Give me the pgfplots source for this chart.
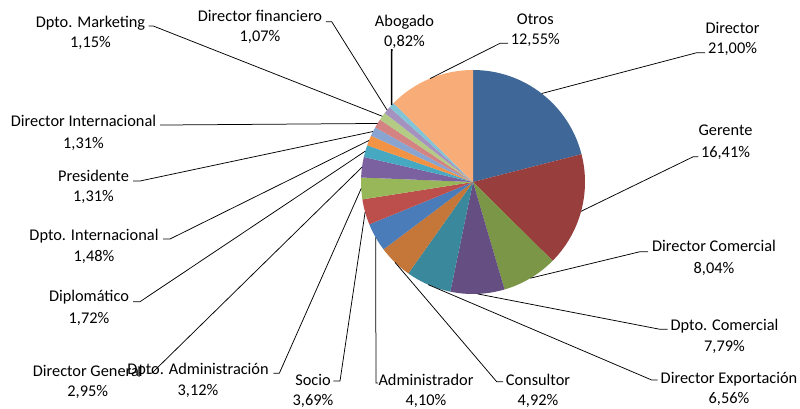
\documentclass[border=0pt]{standalone}
\usepackage{fontspec}
\setmainfont{Carlito}
\usepackage{pgfplots}
\usepackage{pgfplotstable}
\pgfplotsset{compat=1.18}
\definecolor{c1}{HTML}{3F6797}
\definecolor{c2}{HTML}{983E3C}
\definecolor{c3}{HTML}{7B9646}
\definecolor{c4}{HTML}{654F82}
\definecolor{c5}{HTML}{3A889C}
\definecolor{c6}{HTML}{C47738}
\definecolor{c7}{HTML}{4A7CBA}
\definecolor{c8}{HTML}{BC4E4B}
\definecolor{c9}{HTML}{97B758}
\definecolor{c10}{HTML}{7C61A0}
\definecolor{c11}{HTML}{47A8C2}
\definecolor{c12}{HTML}{F29244}
\definecolor{c13}{HTML}{88A5D2}
\definecolor{c14}{HTML}{D38482}
\definecolor{c15}{HTML}{B3CB85}
\definecolor{c16}{HTML}{A692BE}
\definecolor{c17}{HTML}{81C5D7}
\definecolor{c18}{HTML}{F8AC77}
\newcommand\lbl{\fontsize{16.4}{20}\selectfont}
\pgfplotstableread[col sep=comma]{
name,val,col,lx,la,lb,ex,ey,hx,lw
Director,21.00,c1,732.5,28.3,48.3,696.7,52.7,705,0.75
Gerente,16.41,c2,725.5,130.7,152.3,693.3,156.7,698.3,0.75
Director Comercial,8.04,c3,714,246.7,268,640,251.7,648,0.75
Dpto. Comercial,7.79,c4,724.5,325,346.7,660,329.3,667.7,0.75
Director Exportación,6.56,c5,729,378.5,398.5,651.7,380,657.5,0.75
Consultor,4.92,c6,538,380,400,496.7,381.7,503,0.75
Administrador,4.10,c7,426,380,400,376,383,378,0.75
Socio,3.69,c8,313,380,400,340,381,333.3,0.75
Dpto. Administración,3.12,c9,198,369.3,390,279.3,373.3,273.3,0.75
Director General,2.95,c10,87.7,371.7,391.7,151.7,373.3,146.7,0.75
Diplomático,1.72,c11,89,296.7,318,140,301.7,133,0.75
Dpto. Internacional,1.48,c12,94,235,256,170,239,163,0.75
Presidente,1.31,c13,93.5,176,196.7,140,181,133,0.75
Director Internacional,1.31,c14,83.5,121.7,143,165,125,160,0.75
Dpto. Marketing,1.15,c15,90.5,22.7,42.7,153.3,26,148.7,0.75
Director financiero,1.07,c16,260,16.7,36.7,331.7,21.7,326,0.75
Abogado,0.82,c17,404.5,21.7,41.7,391.7,49,391.7,1.6
Otros,12.55,c18,535.3,19,39,500,43.3,508,0.75
}\pietable
\begin{document}
\begin{tikzpicture}
\begin{axis}[hide axis, x=1bp, y=1bp, y dir=reverse,
  xmin=0, xmax=800, ymin=0, ymax=408, clip=false]
\coordinate (ll) at (axis cs:0,408);
\coordinate (ur) at (axis cs:800,0);
\pgfplotsextra{%
  \pgfplotstablegetrowsof{\pietable}%
  \pgfmathtruncatemacro\N{\pgfplotsretval-1}%
  \gdef\pietot{0}%
  \foreach \i in {0,...,\N}{%
    \pgfplotstablegetelem{\i}{val}\of\pietable
    \pgfmathsetmacro\tmpsum{\pietot+\pgfplotsretval}\xdef\pietot{\tmpsum}}%
  \gdef\piecum{0}%
  \foreach \i in {0,...,\N}{%
    \pgfplotstablegetelem{\i}{val}\of\pietable\edef\sval{\pgfplotsretval}%
    \pgfplotstablegetelem{\i}{col}\of\pietable\edef\scol{\pgfplotsretval}%
    \pgfmathsetmacro\aa{90-\piecum/\pietot*360}%
    \pgfmathsetmacro\bb{90-(\piecum+\sval)/\pietot*360}%
    \pgfmathsetmacro\sx{473+112*cos(\aa)}%
    \pgfmathsetmacro\sy{182-112*sin(\aa)}%
    \fill[fill=\scol] (axis cs:473,182) -- (axis cs:\sx,\sy) arc[start angle=\aa, end angle=\bb, radius=112bp] -- cycle;
    \pgfmathsetmacro\tmpsum{\piecum+\sval}\xdef\piecum{\tmpsum}%
  }%
  \gdef\piecum{0}%
  \foreach \i in {0,...,\N}{%
    \pgfplotstablegetelem{\i}{val}\of\pietable\edef\sval{\pgfplotsretval}%
    \pgfplotstablegetelem{\i}{name}\of\pietable\edef\snm{\pgfplotsretval}%
    \pgfplotstablegetelem{\i}{lx}\of\pietable\edef\slx{\pgfplotsretval}%
    \pgfplotstablegetelem{\i}{la}\of\pietable\edef\sla{\pgfplotsretval}%
    \pgfplotstablegetelem{\i}{lb}\of\pietable\edef\slb{\pgfplotsretval}%
    \pgfplotstablegetelem{\i}{ex}\of\pietable\edef\sex{\pgfplotsretval}%
    \pgfplotstablegetelem{\i}{ey}\of\pietable\edef\sey{\pgfplotsretval}%
    \pgfplotstablegetelem{\i}{hx}\of\pietable\edef\shx{\pgfplotsretval}%
    \pgfplotstablegetelem{\i}{lw}\of\pietable\edef\slw{\pgfplotsretval}%
    \pgfmathsetmacro\mm{90-(\piecum+\sval/2)/\pietot*360}%
    \pgfmathsetmacro\mx{473+112*cos(\mm)}%
    \pgfmathsetmacro\my{182-112*sin(\mm)}%
    \draw[black, line width=\slw bp] (axis cs:\mx,\my) -- (axis cs:\sex,\sey) -- (axis cs:\shx,\sey);
    \node[font=\lbl, text height=10.5bp, text depth=0bp, inner sep=0pt] at (axis cs:\slx,\sla) {\snm};
    \node[font=\lbl, text height=10.5bp, text depth=0bp, inner sep=0pt] at (axis cs:\slx,\slb)
      {\pgfmathprintnumber[fixed,fixed zerofill,precision=2,use comma,assume math mode=true]{\sval}\%};
    \pgfmathsetmacro\tmpsum{\piecum+\sval}\xdef\piecum{\tmpsum}%
  }%
}
\end{axis}
\pgfresetboundingbox
\useasboundingbox (ll) rectangle (ur);
\end{tikzpicture}
\end{document}
